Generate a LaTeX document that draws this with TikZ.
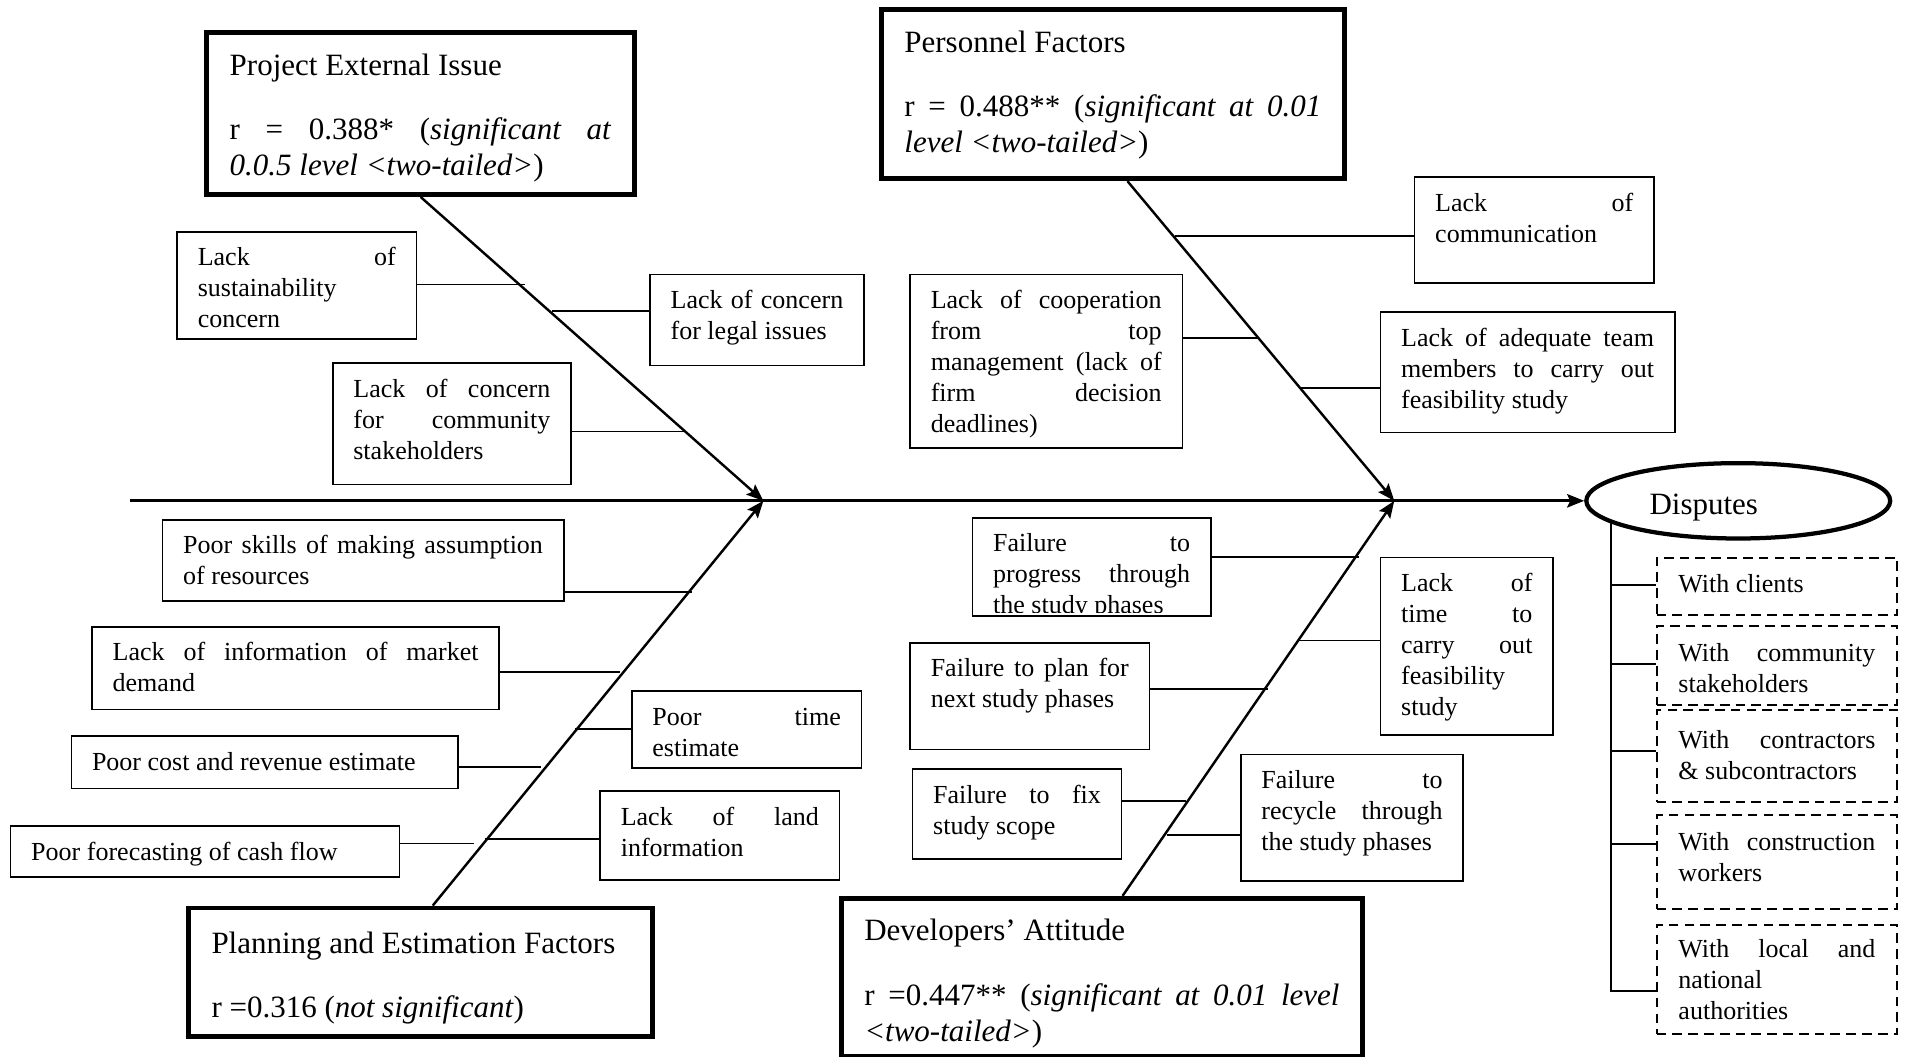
\documentclass[tikz,border=0pt]{standalone}
\usepackage{fontspec}
\setmainfont{Liberation Serif}
\usetikzlibrary{arrows.meta,shapes.geometric,calc}

\newcommand\causefont{\fontsize{21.4pt}{25.5pt}\selectfont}
\newcommand\headfont{\fontsize{25.5pt}{29.5pt}\selectfont}
% a line spread to the full text width
\newcommand\jl[1]{\makebox[\linewidth][s]{\spaceskip=0pt\xspaceskip=0pt\relax #1}}
\hbadness=10000 \hyphenpenalty=10000 \exhyphenpenalty=10000

\tikzset{
  cause/.style={draw, line width=1.4pt, anchor=north west, align=justify,
    font=\causefont, inner xsep=17pt, inner ysep=0pt, text height=28pt},
  head/.style={draw, line width=4pt, anchor=north west, align=justify,
    font=\headfont, inner xsep=19pt, inner ysep=0pt, text height=35pt},
  target/.style={draw, dash pattern=on 8pt off 5pt, line width=1.6pt,
    anchor=north west, align=justify, font=\causefont, inner xsep=18pt,
    inner ysep=0pt, text height=29pt, text width=162pt},
  spine/.style={line width=2.4pt, -{Stealth[length=14pt,width=11pt,inset=2.5pt]}},
  bone/.style={line width=2pt, -{Stealth[length=14pt,width=11pt,inset=2.5pt]}},
  twig/.style={line width=1.4pt},
}

\begin{document}
\begin{tikzpicture}[x=1pt, y=-1pt]
\useasboundingbox (0,0) rectangle (1568,869);

% ---- category boxes
\node[head, text width=314pt, text depth=98pt] (pei) at (168,25)
  {Project External Issue\\[23.5pt]\jl{r = 0.388* (\textit{significant at}}\\\textit{0.0.5 level <two-tailed>})};
\node[head, text width=343pt, text depth=104pt] (pf) at (723,6)
  {Personnel Factors\\[23.5pt]\jl{r = 0.488** (\textit{significant at 0.01}}\\\textit{level <two-tailed>})};
\node[head, text width=344pt, text height=37pt, text depth=69pt] (pef) at (153,745)
  {Planning and Estimation Factors\\[23.5pt]r =0.316 (\textit{not significant})};
\node[head, text width=391pt, text depth=95pt] (da) at (690,737)
  {Developers’ Attitude\\[23.5pt]\jl{r =0.447** (\textit{significant at 0.01 level}}\\\textit{<two-tailed>})};

% ---- effect
\node[ellipse, draw, line width=3.5pt, minimum width=250pt, minimum height=62pt,
  inner sep=0pt, font=\headfont, text width=146pt, align=left,
  text height=23pt, text depth=0pt] (disp) at (1430,412) {Disputes};

% ---- spine and main bones
\coordinate (tail) at (107,412);
\coordinate (j1) at (628,412);
\coordinate (j2) at (1147,412);
\draw[spine] (tail) -- (disp.west);
\draw[bone] (pei.south) -- (j1);
\draw[bone] ([xshift=12pt]pf.south) -- (j2);
\draw[bone] ([xshift=10pt]pef.north) -- (j1);
\draw[bone] ([xshift=17pt]da.north) -- (j2);

% ---- project external issue causes
\node[cause, text width=163pt, text depth=60pt] (a) at (145,190)
  {\jl{Lack of}\\sustainability\\concern};
\node[cause, text width=142pt, text depth=47pt] (b) at (534,225)
  {\jl{Lack of concern}\\for legal issues};
\node[cause, text width=162pt, text depth=72pt] (c) at (273,298)
  {\jl{Lack of concern}\\\jl{for community}\\stakeholders};

% ---- personnel causes
\node[cause, text width=163pt, text depth=59pt] (d) at (1163,145)
  {\jl{Lack of}\\communication};
\node[cause, text width=190pt, text depth=115pt] (e) at (748,225)
  {\jl{Lack of cooperation}\\\jl{from top}\\\jl{management (lack of}\\\jl{firm decision}\\deadlines)};
\node[cause, text width=208pt, text depth=71pt] (f) at (1135,256)
  {\jl{Lack of adequate team}\\\jl{members to carry out}\\feasibility study};

% ---- planning and estimation causes
\node[cause, text width=296pt, text depth=39pt] (g) at (133,427)
  {\jl{Poor skills of making assumption}\\of resources};
\node[cause, text width=301pt, text depth=40pt] (h) at (75,515)
  {\jl{Lack of information of market}\\demand};
\node[cause, text width=155pt, text depth=35pt] (i) at (519,568)
  {\jl{Poor time}\\estimate};
\node[cause, text width=284pt, text depth=15pt] (j) at (58,605)
  {Poor cost and revenue estimate};
\node[cause, text width=163pt, text depth=45pt] (k) at (493,650)
  {\jl{Lack of land}\\information};
\node[cause, text width=286pt, text depth=14pt] (l) at (8,679)
  {Poor forecasting of cash flow};

% ---- developers' attitude causes
% the last line of this box is cut off just below its baseline
\begin{scope}
  \clip (790,415) rectangle (1005,504);
  \node[cause, draw=none, outer sep=0pt, text width=162pt, text depth=53pt] (m) at (800,426)
    {\jl{Failure to}\\\jl{progress through}\\the study phases};
\end{scope}
\draw[line width=1.4pt] (m.north west) rectangle (m.south east);
\node[cause, text width=108pt, text depth=118pt] (n) at (1135,458)
  {\jl{Lack of}\\\jl{time to}\\\jl{carry out}\\feasibility\\study};
\node[cause, text width=163pt, text depth=60pt] (o) at (748,528)
  {\jl{Failure to plan for}\\next study phases};
\node[cause, text width=138pt, text depth=46pt] (p) at (750,632)
  {\jl{Failure to fix}\\study scope};
\node[cause, text width=149pt, text depth=76pt] (q) at (1020,620)
  {\jl{Failure to}\\\jl{recycle through}\\the study phases};

% ---- where the twigs meet the bones
\coordinate (ea) at (432,234);
\coordinate (eb) at (454,256);
\coordinate (ec) at (563,355);
\coordinate (ed) at (967,194);
\coordinate (ee) at (1036,278);
\coordinate (ef) at (1070,319);
\coordinate (eg) at (569,487);
\coordinate (eh) at (510,553);
\coordinate (ei) at (473,600);
\coordinate (ej) at (445,631);
\coordinate (ek) at (399,690);
\coordinate (el) at (390,694);
\coordinate (em) at (1118,458);
\coordinate (en) at (1067,527);
\coordinate (eo) at (1043,567);
\coordinate (ep) at (976,659);
\coordinate (eq) at (960,687);

\draw[twig] (a.east |- ea) -- (ea);
\draw[twig] (b.west |- eb) -- (eb);
\draw[twig] (c.east |- ec) -- (ec);
\draw[twig] (d.west |- ed) -- (ed);
\draw[twig] (e.east |- ee) -- (ee);
\draw[twig] (f.west |- ef) -- (ef);
\draw[twig] (g.east |- eg) -- (eg);
\draw[twig] (h.east |- eh) -- (eh);
\draw[twig] (i.west |- ei) -- (ei);
\draw[twig] (j.east |- ej) -- (ej);
\draw[twig] (k.west |- ek) -- (ek);
\draw[twig] (l.east |- el) -- (el);
\draw[twig] (m.east |- em) -- (em);
\draw[twig] (n.west |- en) -- (en);
\draw[twig] (o.east |- eo) -- (eo);
\draw[twig] (p.east |- ep) -- (ep);
\draw[twig] (q.west |- eq) -- (eq);

% ---- kinds of disputes
\node[target, text depth=18pt] (dc1) at (1362,458) {With clients};
\node[target, text depth=36pt] (dc2) at (1362,514) {\jl{With community}\\stakeholders};
\node[target, text height=32pt, text depth=44pt] (dc3) at (1362,583) {\jl{With contractors}\\\& subcontractors};
\node[target, text depth=48pt] (dc4) at (1362,670) {\jl{With construction}\\workers};
\node[target, text height=27pt, text depth=63pt] (dc5) at (1362,760) {\jl{With local and}\\national\\authorities};

\coordinate (tr) at (disp.190);
\coordinate (k1) at (1362,481);
\coordinate (k2) at (1362,546);
\coordinate (k3) at (1362,618);
\coordinate (k4) at (1362,694);
\coordinate (k5) at (1362,815);
\draw[line width=1.6pt] (tr) -- (tr |- k5) -- (dc5.west |- k5);
\draw[line width=1.6pt] (tr |- k1) -- (dc1.west |- k1);
\draw[line width=1.6pt] (tr |- k2) -- (dc2.west |- k2);
\draw[line width=1.6pt] (tr |- k3) -- (dc3.west |- k3);
\draw[line width=1.6pt] (tr |- k4) -- (dc4.west |- k4);
\end{tikzpicture}
\end{document}
